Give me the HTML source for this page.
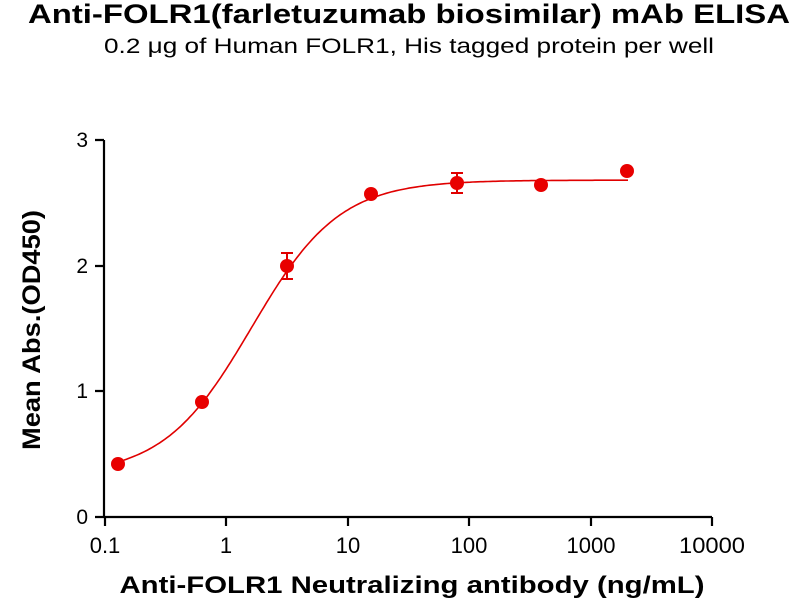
<!DOCTYPE html>
<html><head><style>body{margin:0;background:#fff}svg{display:block;font-family:"Liberation Sans",Arial,sans-serif}</style></head>
<body>
<svg id="s" width="800" height="600" viewBox="0 0 800 600">
<text x="409" y="23" text-anchor="middle" font-size="27" font-weight="bold" textLength="762" lengthAdjust="spacingAndGlyphs">Anti-FOLR1(farletuzumab biosimilar) mAb ELISA</text>
<text x="409" y="53" text-anchor="middle" font-size="21" textLength="610" lengthAdjust="spacingAndGlyphs">0.2 μg of Human FOLR1, His tagged protein per well</text>
<g stroke="#000" stroke-width="2.2" fill="none">
<path d="M104,140V518M95,140H104M95,266H104M95,391H104M95,517H104M104,517H712"/>
<path d="M105,517V526M226,517V526M348,517V526M469,517V526M591,517V526M712,517V526"/>
</g>
<g font-size="21" text-anchor="end">
<text x="88" y="147">3</text><text x="88" y="273">2</text><text x="88" y="398">1</text><text x="88" y="524">0</text>
</g>
<g font-size="22" text-anchor="middle">
<text x="105" y="553">0.1</text><text x="226" y="553">1</text><text x="348" y="553">10</text><text x="469" y="553">100</text><text x="591" y="553">1000</text><text x="712" y="553" textLength="66" lengthAdjust="spacingAndGlyphs">10000</text>
</g>
<text x="412" y="593" text-anchor="middle" font-size="24" font-weight="bold" textLength="585" lengthAdjust="spacingAndGlyphs">Anti-FOLR1 Neutralizing antibody (ng/mL)</text>
<text transform="translate(40,330) rotate(-90)" text-anchor="middle" font-size="25" font-weight="bold" textLength="240" lengthAdjust="spacingAndGlyphs">Mean Abs.(OD450)</text>
<path id="c" stroke="#e00000" stroke-width="1.6" fill="none"/>
<g stroke="#e00000" stroke-width="2">
<path d="M287,253V279M281,253H293M281,279H293M457,173V193M451,173H463M451,193H463"/>
</g>
<g fill="#e80000">
<circle cx="118" cy="464" r="7"/><circle cx="202" cy="402" r="7"/><circle cx="287" cy="266" r="7"/><circle cx="371" cy="194" r="7"/><circle cx="457" cy="183" r="7"/><circle cx="541" cy="185" r="7"/><circle cx="627" cy="171" r="7"/>
</g>
</svg>
<script>
var d="";for(var i=0;i<=200;i++){var lx=Math.log10(0.13)+i/200*(Math.log10(2000)-Math.log10(0.13));var x=Math.pow(10,lx);var y=0.33+(2.68-0.33)/(1+Math.pow(1.6/x,1.2));var px=105+121.6*(lx+1),py=517-125.7*y;d+=(i?"L":"M")+px.toFixed(1)+","+py.toFixed(1);}
document.getElementById("c").setAttribute("d",d);
</script>
</body></html>
